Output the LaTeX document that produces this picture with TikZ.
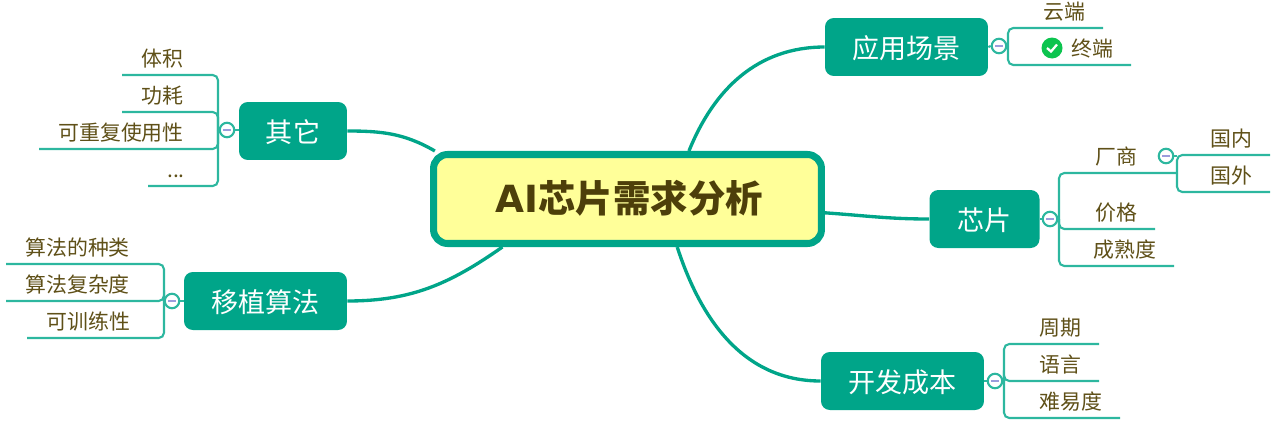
\documentclass[tikz,border=0pt]{standalone}
\usepackage{fontspec}
\setmainfont{Noto Sans CJK SC}
\newfontfamily\latinbold{DejaVu Sans}
\usetikzlibrary{calc,positioning}
\definecolor{teal}{HTML}{00A589}
\definecolor{twigcol}{HTML}{2DB79F}
\definecolor{inkcol}{HTML}{5F5018}
\definecolor{rootink}{HTML}{4D3F0A}
\definecolor{rootfill}{HTML}{FFFF99}
\definecolor{foldcol}{HTML}{9C9CDC}
\definecolor{donecol}{HTML}{0CC44F}
\tikzset{
    rootbox/.style={
    rectangle,rounded corners=8pt,draw=teal,line width=4pt,fill=rootfill,
    minimum width=7.76cm,minimum height=1.78cm,text=rootink,text height=16.3pt,text depth=1.2pt,
    font=\fontsize{21.3pt}{24pt}\selectfont\bfseries
    },
    topic/.style={
    rectangle,rounded corners=5pt,fill=teal,text=white,minimum height=1.16cm,
    inner sep=0pt,text height=14pt,text depth=1.2pt,font=\fontsize{15.4pt}{18pt}\selectfont
    },
    leaf/.style={
    inner ysep=0pt,minimum height=.64cm,text=inkcol,
    text height=10.5pt,text depth=1.2pt,font=\fontsize{11.9pt}{14pt}\selectfont
    },
    rleaf/.style={
    leaf,anchor=south east,inner xsep=.35cm
    },
    lleaf/.style={
    leaf,anchor=south west,inner xsep=.38cm
    },
    limb/.style={
    draw=teal,line width=1.9pt
    },
    twig/.style={
    draw=twigcol,line width=1.2pt,rounded corners=3pt
    },
    fold/.style={
    circle,draw=twigcol,line width=1.2pt,fill=white,minimum size=.29cm,inner sep=0pt,
    path picture={\draw[foldcol,line width=1.2pt] ($(path picture bounding box.center)+(-4,0)$) -- ($(path picture bounding box.center)+(4,0)$);}
    },
    done/.style={
    circle,fill=donecol,minimum size=.42cm,inner sep=0pt,
    path picture={\draw[white,line width=1.3pt] ($(path picture bounding box.center)+(-5,0)$) -- ($(path picture bounding box.center)+(-1,-3.5)$) -- ($(path picture bounding box.center)+(5,3.5)$);}
    },
}
\begin{document}
\begin{tikzpicture}[x=0.02cm,y=0.02cm]
   \useasboundingbox (0,0) rectangle (1277,424);

   \node[rootbox] (root) at (627.5,225) {\hspace*{2pt}{\latinbold AI}芯片需求分析};

   \node[topic,minimum width=3.26cm] (app) at (906.5,377) {应用场景};
   \node[topic,minimum width=2.2cm] (chip) at (984.5,205) {芯片};
   \node[topic,minimum width=3.26cm] (cost) at (902.5,43) {开发成本};
   \node[topic,minimum width=2.16cm] (other) at (293,293) {其它};
   \node[topic,minimum width=3.26cm] (algo) at (265.5,123) {移植算法};

   \node[fold] (appm) at (999,378) {};
   \node[fold] (chipm) at (1050,205) {};
   \node[fold] (vendorm) at (1166,268) {};
   \node[fold] (costm) at (995,43) {};
   \node[fold] (otherm) at (227,294) {};
   \node[fold] (algom) at (172,123) {};

   \coordinate (appbus) at (1008,378);
   \coordinate (chipbus) at (1059,205);
   \coordinate (vendorbus) at (1177,251);
   \coordinate (costbus) at (1004,43);
   \coordinate (otherbus) at (218,294);
   \coordinate (algobus) at (164,123);

   % right side
   \node[rleaf] (cloud) at (1103,396) {云端};
   \node[rleaf] (device) at (1131,359) {终端};
   \node[done] (tick) at (1052,376) {};

   \node[rleaf] (vendor) at (1155,251) {厂商};
   \node[rleaf] (price) at (1155,195) {价格};
   \node[rleaf] (mature) at (1174,158) {成熟度};
   \node[rleaf] (domestic) at (1270,269) {国内};
   \node[rleaf] (foreign) at (1270,232) {国外};

   \node[rleaf] (period) at (1099,80) {周期};
   \node[rleaf] (lang) at (1099,43) {语言};
   \node[rleaf] (hard) at (1120,6) {难易度};

   % left side
   \node[lleaf] (volume) at (122,349) {体积};
   \node[lleaf] (power) at (122,312) {功耗};
   \node[lleaf] (reuse) at (39,275) {可重复使用性};
   \node[lleaf] (dots) at (148,238) {...};

   \node[lleaf] (kinds) at (6,160) {算法的种类};
   \node[lleaf] (complex) at (6,123) {算法复杂度};
   \node[lleaf] (train) at (27,86) {可训练性};

   \draw[limb] (root.38) to[out=68,in=180] (app.west);
   \draw[limb] (root.-4.4) to[out=-4,in=180] (chip.west);
   \draw[limb] (root.-44) to[out=-72,in=180] (cost.west);
   \draw[limb] (root.166) to[out=150,in=0] (other.east);
   \draw[limb] (root.201.2) to[out=215,in=0] (algo.east);

   \draw[twig] (app.east) -- (appm.west);
   \draw[twig] (appm.east) -- (appbus);
   \draw[twig] (appbus) |- (cloud.south east);
   \draw[twig] (appbus) |- (device.south east);

   \draw[twig] (chip.east |- chipm) -- (chipm.west);
   \draw[twig] (chipm.east) -- (chipbus);
   \draw[twig] (chipbus) |- (vendor.south east) -- (vendorbus);
   \draw[twig] (chipbus) |- (price.south east);
   \draw[twig] (chipbus) |- (mature.south east);

   \draw[twig] (vendorm.east) -- (vendorm.east -| vendorbus);
   \draw[twig] (vendorbus) |- (domestic.south east);
   \draw[twig] (vendorbus) |- (foreign.south east);

   \draw[twig] (cost.east) -- (costm.west);
   \draw[twig] (costm.east) -- (costbus);
   \draw[twig] (costbus) |- (period.south east);
   \draw[twig] (costbus) |- (lang.south east);
   \draw[twig] (costbus) |- (hard.south east);

   \draw[twig] (other.west |- otherm) -- (otherm.east);
   \draw[twig] (otherm.west) -- (otherbus);
   \draw[twig] (otherbus) |- (volume.south west);
   \draw[twig] (otherbus) |- (power.south west);
   \draw[twig] (otherbus) |- (reuse.south west);
   \draw[twig] (otherbus) |- (dots.south west);

   \draw[twig] (algo.west) -- (algom.east);
   \draw[twig] (algom.west) -- (algobus);
   \draw[twig] (algobus) |- (kinds.south west);
   \draw[twig] (algobus) |- (complex.south west);
   \draw[twig] (algobus) |- (train.south west);
\end{tikzpicture}
\end{document}
